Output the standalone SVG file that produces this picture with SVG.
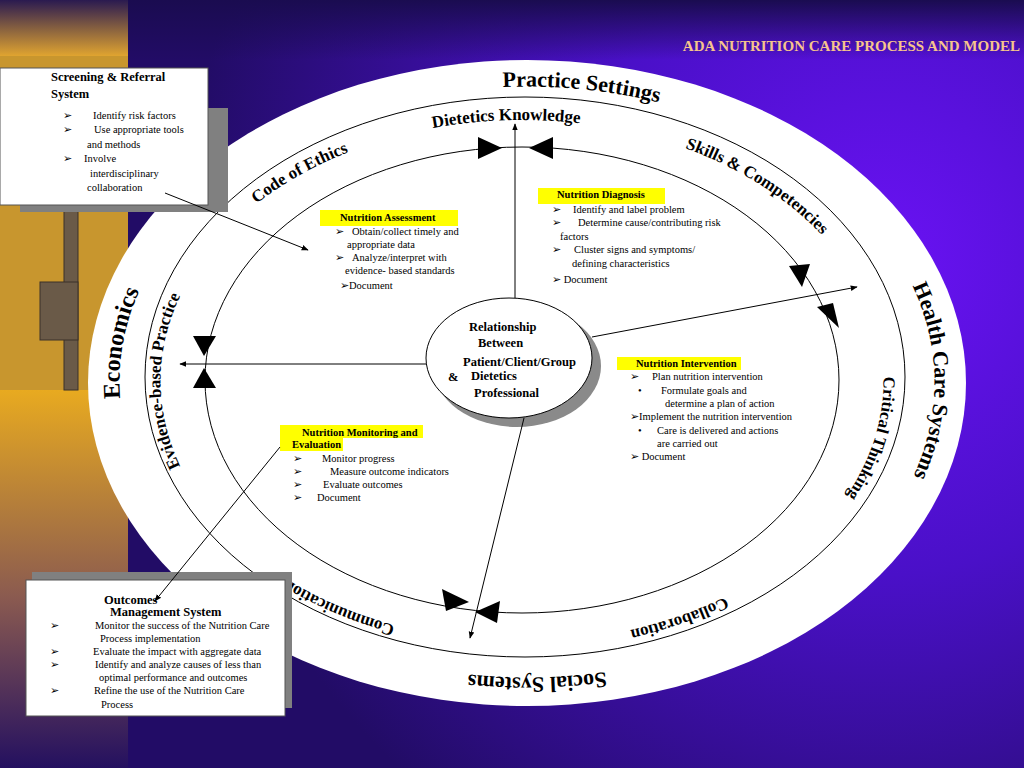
<svg xmlns="http://www.w3.org/2000/svg" width="1024" height="768" viewBox="0 0 1024 768">
<defs>
<radialGradient id="bg" cx="880" cy="260" r="700" gradientUnits="userSpaceOnUse">
<stop offset="0" stop-color="#6a12f4"/><stop offset="0.45" stop-color="#4a10c8"/><stop offset="1" stop-color="#220c66"/>
</radialGradient>
<linearGradient id="topband" x1="0" y1="0" x2="0" y2="1">
<stop offset="0" stop-color="#1a0c50"/><stop offset="1" stop-color="#1a0c50" stop-opacity="0"/>
</linearGradient>
<linearGradient id="leftlow" x1="0" y1="0" x2="0" y2="1">
<stop offset="0" stop-color="#e8aa20"/><stop offset="0.55" stop-color="#8a5a50"/><stop offset="1" stop-color="#241060"/>
</linearGradient>
<linearGradient id="lefttop" x1="0" y1="0" x2="0" y2="1">
<stop offset="0" stop-color="#2a1a50"/><stop offset="1" stop-color="#e0a430"/>
</linearGradient>
<marker id="ah" viewBox="0 0 10 10" refX="9" refY="5" markerWidth="7" markerHeight="7" orient="auto-start-reverse">
<path d="M0,1 L10,5 L0,9 z" fill="#000"/>
</marker>
<path id="outerP" d="M239,591 A407,295 0 1 1 815,173 A407,295 0 1 1 239,591"/>
<path id="innerP" d="M522,642 A360,260 0 1 1 522,120 A360,260 0 1 1 522,642"/>
</defs>
<style>
.t{font-family:"Liberation Serif",serif;font-size:10.5px;fill:#000}
.h{font-family:"Liberation Serif",serif;font-size:10.5px;font-weight:bold;fill:#000}
.b{font-family:"Liberation Serif",serif;font-size:12.5px;font-weight:bold;fill:#000}
.ol{font-family:"Liberation Serif",serif;font-size:22px;font-weight:bold;fill:#000}
.il{font-family:"Liberation Serif",serif;font-size:17px;font-weight:bold;fill:#000}
.ln{fill:none;stroke:#000;stroke-width:1}
.tri{fill:#000}
.hl{fill:#ffff00}
</style>
<rect width="1024" height="768" fill="url(#bg)"/>
<rect width="1024" height="60" fill="url(#topband)"/>
<rect x="0" y="0" width="128" height="56" fill="url(#lefttop)"/>
<rect x="0" y="56" width="128" height="334" fill="#c8962e"/>
<rect x="0" y="390" width="128" height="378" fill="url(#leftlow)"/>
<g id="key" fill="#6a5a48" stroke="#3a3028">
<rect x="64" y="200" width="14" height="190"/>
<rect x="40" y="282" width="38" height="58"/>
</g>
<text x="1020" y="51" text-anchor="end" style="font-family:'Liberation Serif',serif;font-size:15px;font-weight:bold;fill:#f6c48c">ADA NUTRITION CARE PROCESS AND MODEL</text>

<g id="rings">
<ellipse cx="527" cy="383" rx="439" ry="323" fill="#fff"/>
<ellipse class="ln" cx="525" cy="377" rx="380" ry="280"/>
<ellipse class="ln" cx="522" cy="380" rx="317" ry="233"/>
</g>
<g id="ring-labels">
<text class="ol"><textPath href="#outerP" startOffset="13%" text-anchor="middle" font-size="24">Economics</textPath></text>
<text class="ol"><textPath href="#outerP" startOffset="38.7%" text-anchor="middle">Practice Settings</textPath></text>
<text class="ol"><textPath href="#outerP" startOffset="61.2%" text-anchor="middle">Health Care Systems</textPath></text>
<text class="ol"><textPath href="#outerP" startOffset="85.8%" text-anchor="middle">Social Systems</textPath></text>
<text class="il"><textPath href="#innerP" startOffset="9.5%" text-anchor="middle">Communication</textPath></text>
<text class="il"><textPath href="#innerP" startOffset="25%" text-anchor="middle">Evidence-based Practice</textPath></text>
<text class="il"><textPath href="#innerP" startOffset="38.3%" text-anchor="middle">Code of Ethics</textPath></text>
<text class="il"><textPath href="#innerP" startOffset="49.2%" text-anchor="middle">Dietetics Knowledge</textPath></text>
<text class="il"><textPath href="#innerP" startOffset="62.6%" text-anchor="middle">Skills &amp; Competencies</textPath></text>
<text class="il"><textPath href="#innerP" startOffset="78%" text-anchor="middle">Critical Thinking</textPath></text>
<text class="il"><textPath href="#innerP" startOffset="91.9%" text-anchor="middle">Collaboration</textPath></text>
</g>

<g id="center">
<ellipse cx="517" cy="366" rx="84" ry="61" fill="#8a8a8a"/>
<ellipse cx="509" cy="358" rx="83" ry="60" fill="#fff" stroke="#000"/>
<text class="b" x="469" y="331">Relationship</text>
<text class="b" x="478" y="347">Between</text>
<text class="b" x="463" y="366">Patient/Client/Group</text>
<text class="b" x="448" y="381">&amp;</text>
<text class="b" x="471" y="380">Dietetics</text>
<text class="b" x="474" y="397">Professional</text>
</g>

<g id="assessment">
<rect class="hl" x="320" y="210" width="138" height="16"/>
<text class="h" x="340" y="221">Nutrition Assessment</text>
<text class="t" x="335" y="235">➢</text><text class="t" x="352" y="235">Obtain/collect timely and</text>
<text class="t" x="347" y="248">appropriate  data</text>
<text class="t" x="335" y="261">➢</text><text class="t" x="352" y="261">Analyze/interpret with</text>
<text class="t" x="345" y="274">evidence-    based standards</text>
<text class="t" x="340" y="289">➢Document</text>
</g>
<g id="diagnosis">
<rect class="hl" x="538" y="188" width="127" height="16"/>
<text class="h" x="557" y="198">Nutrition Diagnosis</text>
<text class="t" x="552" y="213">➢</text><text class="t" x="573" y="213">Identify  and label problem</text>
<text class="t" x="552" y="226">➢</text><text class="t" x="578" y="226">Determine cause/contributing risk</text>
<text class="t" x="560" y="240">factors</text>
<text class="t" x="552" y="253">➢</text><text class="t" x="574" y="253">Cluster signs and symptoms/</text>
<text class="t" x="572" y="267">defining characteristics</text>
<text class="t" x="552" y="283">➢ Document</text>
</g>
<g id="intervention">
<rect class="hl" x="617" y="357" width="124" height="13"/>
<text class="h" x="636" y="367">Nutrition Intervention</text>
<text class="t" x="630" y="380">➢</text><text class="t" x="652" y="380">Plan nutrition intervention</text>
<text class="t" x="638" y="394">•</text><text class="t" x="661" y="394">Formulate goals and</text>
<text class="t" x="665" y="407">determine a plan of action</text>
<text class="t" x="630" y="420">➢Implement the nutrition intervention</text>
<text class="t" x="638" y="434">•</text><text class="t" x="657" y="434">Care is delivered and actions</text>
<text class="t" x="657" y="447">are carried out</text>
<text class="t" x="630" y="460">➢ Document</text>
</g>
<g id="monitoring">
<rect class="hl" x="280" y="425" width="143" height="13"/>
<rect class="hl" x="280" y="438" width="63" height="13"/>
<text class="h" x="302" y="436">Nutrition Monitoring and</text>
<text class="h" x="292" y="448">Evaluation</text>
<text class="t" x="293" y="462">➢</text><text class="t" x="322" y="462">Monitor progress</text>
<text class="t" x="293" y="475">➢</text><text class="t" x="330" y="475">Measure outcome indicators</text>
<text class="t" x="293" y="488">➢</text><text class="t" x="323" y="488">Evaluate outcomes</text>
<text class="t" x="293" y="501">➢</text><text class="t" x="317" y="501">Document</text>
</g>

<g id="screening">
<rect x="20" y="108" width="208" height="104" fill="#808080"/>
<rect x="0" y="68" width="208" height="137" fill="#fff" stroke="#555"/>
<text class="b" x="51" y="81" font-size="12">Screening &amp; Referral</text>
<text class="b" x="51" y="98" font-size="12">System</text>
<text class="t" x="63" y="119" font-size="11">➢</text><text class="t" x="93" y="119" font-size="11">Identify risk factors</text>
<text class="t" x="63" y="133" font-size="11">➢</text><text class="t" x="94" y="133" font-size="11">Use appropriate tools</text>
<text class="t" x="87" y="148" font-size="11">and methods</text>
<text class="t" x="63" y="162" font-size="11">➢</text><text class="t" x="84" y="162" font-size="11">Involve</text>
<text class="t" x="90" y="177" font-size="11">interdisciplinary</text>
<text class="t" x="87" y="191" font-size="11">collaboration</text>
</g>
<g id="outcomes">
<rect x="32" y="572" width="260" height="136" fill="#808080"/>
<rect x="26" y="580" width="259" height="136" fill="#fff" stroke="#555"/>
<text class="b" x="104" y="604">Outcomes</text>
<text class="b" x="110" y="616">Management System</text>
<text class="t" x="50" y="629">➢</text><text class="t" x="95" y="629">Monitor the success of the Nutrition Care</text>
<text class="t" x="100" y="642">Process implementation</text>
<text class="t" x="50" y="655">➢</text><text class="t" x="93" y="655">Evaluate the impact with aggregate data</text>
<text class="t" x="50" y="668">➢</text><text class="t" x="95" y="668">Identify and analyze causes of less than</text>
<text class="t" x="99" y="681">optimal performance and outcomes</text>
<text class="t" x="50" y="694">➢</text><text class="t" x="94" y="694">Refine the use of the Nutrition Care</text>
<text class="t" x="101" y="708">Process</text>
</g>

<g id="connectors">
<line class="ln" x1="515" y1="298" x2="515" y2="124" marker-end="url(#ah)"/>
<line class="ln" x1="592" y1="337" x2="857" y2="287" marker-end="url(#ah)"/>
<line class="ln" x1="426" y1="364" x2="180" y2="364" marker-end="url(#ah)"/>
<line class="ln" x1="524" y1="418" x2="470" y2="638" marker-end="url(#ah)"/>
<line class="ln" x1="165" y1="193" x2="308" y2="250" marker-end="url(#ah)"/>
<line class="ln" x1="280" y1="447" x2="155" y2="601" marker-end="url(#ah)"/>
<polygon class="tri" points="478,137 478,159 502,148"/>
<polygon class="tri" points="553,137 553,159 529,148"/>
<polygon class="tri" points="789,266 810,264 802,287"/>
<polygon class="tri" points="817,307 833,303 839,328"/>
<polygon class="tri" points="442,589 446,611 469,602"/>
<polygon class="tri" points="500,601 497,623 475,612"/>
<polygon class="tri" points="193,336 216,336 204,356"/>
<polygon class="tri" points="193,388 216,388 204,368"/>
</g>
</svg>
